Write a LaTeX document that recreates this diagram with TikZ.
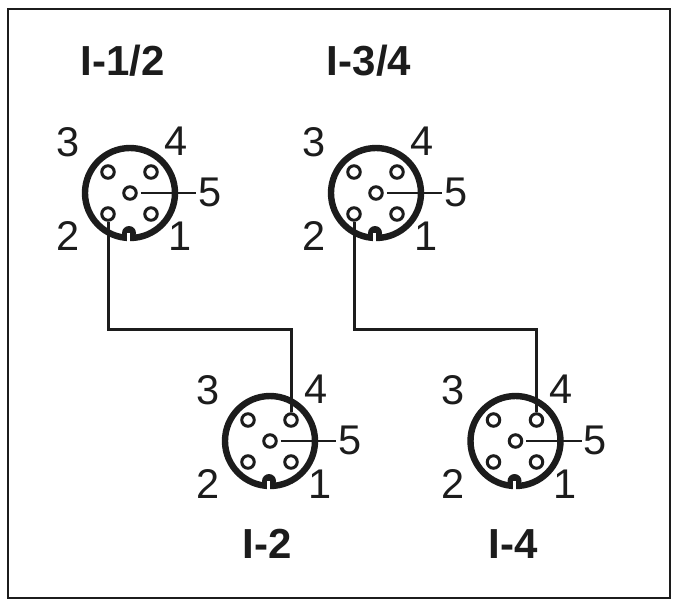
\documentclass[tikz,border=0pt]{standalone}
\usepackage{fontspec}
\setmainfont{Liberation Sans}
\definecolor{ink}{HTML}{1C1C1C}
\tikzset{
  frame/.style={draw=ink,line width=2.6pt},
  ring/.style={draw=ink,line width=6.4pt},
  pin/.style={circle,draw=ink,line width=3pt,fill=white,minimum size=12.5pt,inner sep=0pt},
  num/.style={text=ink,font=\fontsize{41.5}{41.5}\selectfont,inner sep=0pt},
  title/.style={text=ink,font=\fontsize{42}{42}\selectfont\bfseries,inner sep=0pt},
  wire/.style={draw=ink,line width=3pt,line join=miter},
  lead/.style={draw=ink,line width=2.4pt,shorten <=3pt,shorten >=2pt}
}
\newcommand{\conn}[3]{%
  \begin{scope}[shift={(#2,#3)}]
    \draw[ring] (0,0) circle[radius=45];
    \fill[ink] (-1,40) circle[radius=7];
    \fill[white] (-2.6,40) rectangle (0.2,52);
    \node[pin] (#1-c) at (0,0) {};
    \node[pin] (#1-p1) at (21,21) {};
    \node[pin] (#1-p2) at (-22,21) {};
    \node[pin] (#1-p3) at (-22,-21) {};
    \node[pin] (#1-p4) at (21,-21) {};
    \node[num] (#1-n1) at (50,43) {1};
    \node[num] (#1-n2) at (-62,43) {2};
    \node[num] (#1-n3) at (-62,-51) {3};
    \node[num] (#1-n4) at (46,-52) {4};
    \node[num] (#1-n5) at (80,-1) {5};
    \draw[lead] (#1-c.east) -- (#1-c.east -| #1-n5.west);
  \end{scope}}
\begin{document}
\begin{tikzpicture}[x=1pt,y=-1pt]
\useasboundingbox (0,0) rectangle (676,603);
\fill[white] (0,0) rectangle (676,603);
\draw[frame] (8,9) rectangle (670,598);
\conn{a}{130}{193}
\conn{b}{376}{193}
\conn{c}{270}{441}
\conn{d}{515.5}{441}
\coordinate (m1) at (200,329);
\coordinate (m2) at (446,329);
\draw[wire] (a-p2.south) -- (a-p2.south |- m1) -- (c-p4.north |- m1) -- (c-p4.north);
\draw[wire] (b-p2.south) -- (b-p2.south |- m2) -- (d-p4.north |- m2) -- (d-p4.north);
\node[title] (t1) at (123,61) {I-1/2};
\node[title] (t2) at (369,61) {I-3/4};
\node[title] (t3) at (267,544) {I-2};
\node[title] (t4) at (513,544) {I-4};
\end{tikzpicture}
\end{document}
